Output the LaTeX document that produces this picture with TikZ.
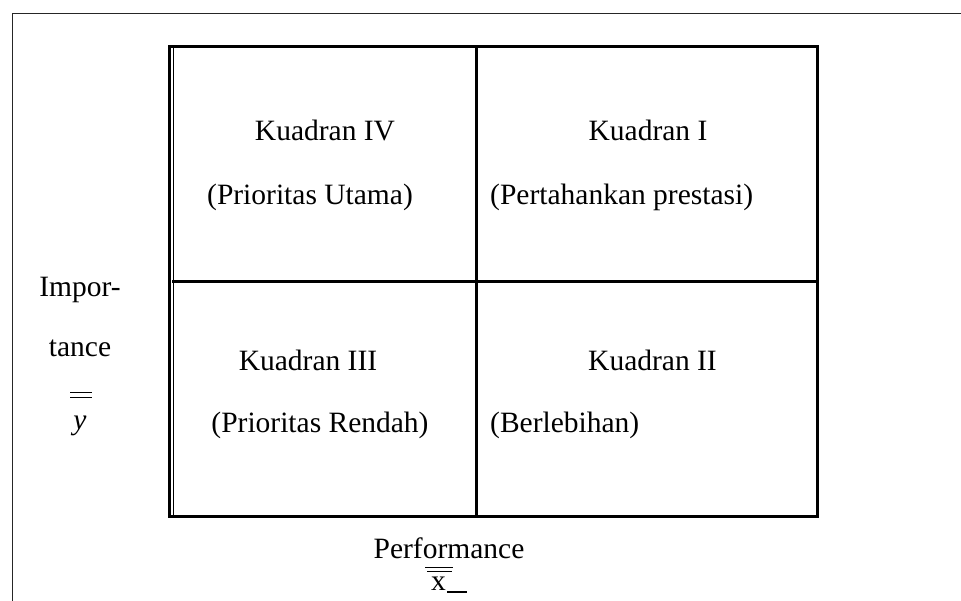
\documentclass[tikz,border=0pt]{standalone}
\usepackage{fontspec}
\setmainfont{Liberation Serif}
\begin{document}
\begin{tikzpicture}[x=1pt,y=-1pt,
  lbl/.style={inner sep=0pt,anchor=base,font=\fontsize{29.5}{34}\selectfont},
  gridline/.style={line width=3pt,black},
  frame/.style={line width=1.4pt,black!85}]
\useasboundingbox (0,0) rectangle (961,601);
% outer frame (open on right and bottom)
\draw[frame] (12.5,601) -- (12.5,13.5) -- (961,13.5);
% quadrant grid
\coordinate (tl) at (170,47);
\coordinate (tr) at (817,47);
\coordinate (br) at (817,516);
\coordinate (bl) at (170,516);
\coordinate (mt) at (476,47);
\coordinate (mb) at (476,516);
\coordinate (ml) at (172,282);
\coordinate (mr) at (817,282);
\draw[gridline] (tl) -- (tr) -- (br) -- (bl);
\draw[line width=2.5pt] (169.5,45.5) -- (169.5,517.5);
\draw[line width=1pt] (173,47) -- (173,516);
\draw[gridline] (mt) -- (mb);
\draw[gridline] (ml) -- (mr);
% quadrant texts
\node[lbl] (q4) at (325,141) {Kuadran IV};
\node[lbl] (q4s) at (310,205) {(Prioritas Utama)};
\node[lbl] (q1) at (648,141) {Kuadran I};
\node[lbl,anchor=base west] (q1s) at (490,205) {(Pertahankan prestasi)};
\node[lbl] (q3) at (308,371) {Kuadran III};
\node[lbl] (q3s) at (320,432) {(Prioritas Rendah)};
\node[lbl,anchor=base west] (q2) at (588,371) {Kuadran II};
\node[lbl,anchor=base west] (q2s) at (490,432) {(Berlebihan)};
% axis labels
\node[lbl] (imp1) at (80,297) {Impor-};
\node[lbl] (imp2) at (80,357) {tance};
\node[lbl] (yv) at (80,429) {\textit{y}};
\draw[line width=1pt] (70,392.5) -- (92,392.5);
\draw[line width=1pt] (70,397.5) -- (92,397.5);
\node[lbl] (perf) at (449,558) {Performance};
\node[lbl] (xv) at (438.5,590) {x};
\draw[line width=1pt] (425,567) -- (453,567);
\draw[line width=1pt] (427,571.5) -- (452,571.5);
\draw[line width=2.5pt] (447,592) -- (467,592);
\end{tikzpicture}
\end{document}
